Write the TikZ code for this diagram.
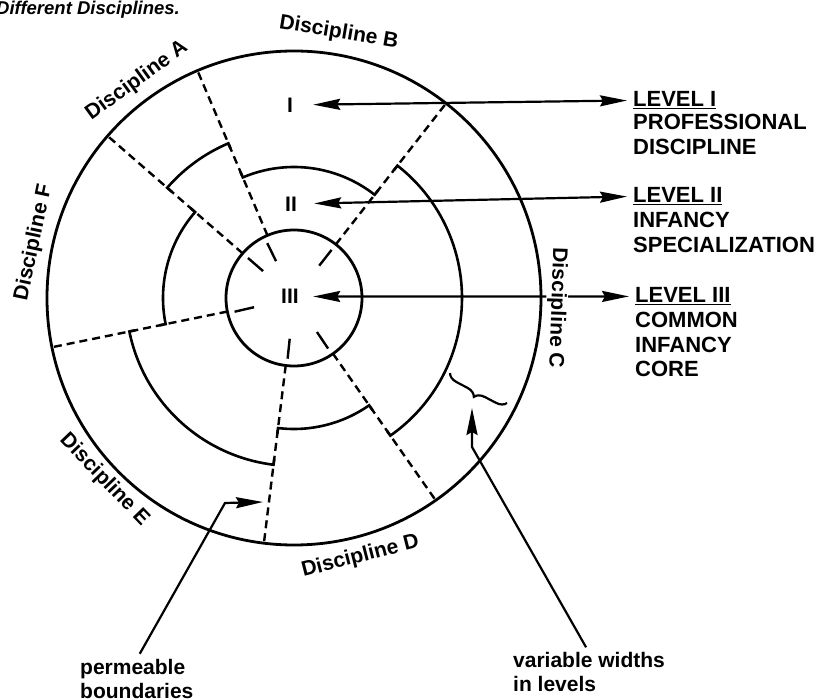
\documentclass[tikz,border=0pt]{standalone}
\usepackage{fontspec}
\setmainfont{Liberation Sans}
\usetikzlibrary{arrows.meta,decorations.pathreplacing}
\tikzset{
    rim/.style={line width=2.8pt},
    levelarc/.style={line width=2.6pt},
    boundary/.style={line width=2.4pt, dash pattern=on 8pt off 5pt},
    gaptick/.style={line width=2.4pt},
    lvarrow/.style={line width=2.2pt, {Stealth[length=27pt,width=11pt,inset=3pt]}-{Stealth[length=27pt,width=11pt,inset=3pt]}},
    pointer/.style={line width=2.2pt, -{Stealth[length=27pt,width=11pt,inset=3pt]}},
    disc/.style={font=\bfseries\fontsize{21}{24}\selectfont, inner sep=1pt},
    numeral/.style={font=\bfseries\fontsize{21}{24}\selectfont, minimum width=46pt, inner sep=0pt},
    levelhd/.style={font=\bfseries\fontsize{22}{25}\selectfont, inner sep=0pt, anchor=base west},
    levelbody/.style={font=\bfseries\fontsize{22}{24.5}\selectfont, inner sep=0pt, anchor=north west, align=left},
    note/.style={font=\bfseries\fontsize{21}{24}\selectfont, inner sep=0pt, anchor=north west, align=left},
}
\begin{document}
\begin{tikzpicture}[x=1pt,y=1pt]
    \useasboundingbox (-294,-402) rectangle (525,298);
    \node[font=\bfseries\itshape\fontsize{18.5}{22}\selectfont, anchor=base west, inner sep=0pt] (title) at (-298,283) {Different Disciplines.};

    % rings
    \draw[rim] (0,0) circle[radius=247];
    \draw[rim] (0,0) circle[radius=68];
    % level II, one arc per discipline: start/end/radius/stub
    \foreach \s/\e/\r/\q in {139/113/168/162, 113/52/131/137, 52/-55/168/162, -55/-97/131/137, -97/-168.5/168/162, -168.5/-221/131/137}
        \draw[levelarc] (\s:\q) -- (\s:\r) arc[start angle=\s, end angle=\e, radius=\r] -- (\e:\q);
    % boundaries
    \foreach \a/\t in {139/139, 113/116, 52/52, -55/-56, -97/-96, -168.5/-167} {
        \draw[boundary] (\a:68) -- (\a:247);
        \draw[gaptick] (\t:41) -- (\t:61);
    }

    % levels
    \node[numeral] (numI) at (-4,193) {I};
    \node[numeral] (numII) at (-3,94) {II};
    \node[numeral] (numIII) at (-4,1.5) {III};
    \node[levelhd] (hdI) at (339,191) {\underline{LEVEL I}};
    \node[levelbody] (bodyI) at (339,184) {PROFESSIONAL\\DISCIPLINE};
    \node[levelhd] (hdII) at (339,95) {\underline{LEVEL II}};
    \node[levelbody] (bodyII) at (339,86) {INFANCY\\SPECIALIZATION};
    \node[levelhd] (hdIII) at (341,-5) {\underline{LEVEL III}};
    \node[levelbody] (bodyIII) at (341,-14) {COMMON\\INFANCY\\CORE};
    \draw[lvarrow, shorten >=6pt] (numI) -- (hdI.west);
    \draw[lvarrow, shorten >=6pt] (numII) -- (hdII.west);
    \draw[lvarrow, shorten >=6pt] (numIII) -- (hdIII.west);

    % disciplines
    \node[disc, rotate=35.9] (discA) at (125.9:268) {Discipline A};
    \node[disc, rotate=-9.6] (discB) at (80.4:269) {Discipline B};
    \node[disc, rotate=-92, fill=white] (discC) at (-2.2:263) {Discipline C};
    \node[disc, rotate=14.4] (discD) at (-75.6:267) {Discipline D};
    \node[disc, rotate=-46.2] (discE) at (223.8:263) {Discipline E};
    \node[disc, rotate=78] (discF) at (168:266) {Discipline F};

    % notes
    \node[note] (perm) at (-214,-361) {permeable\\boundaries};
    \coordinate (permBend) at (-69,-205);
    \coordinate (permTip) at (-31,-204);
    \draw[pointer, shorten <=6pt] (perm.north) -- (permBend) -- (permTip);
    \node[note] (vari) at (219,-354.5) {variable widths\\in levels};
    \coordinate (variBend) at (178,-149);
    \coordinate (variTip) at (178,-110);
    \draw[pointer, shorten <=6pt] (vari.north) -- (variBend) -- (variTip);
    \coordinate (braceOut) at (213,-105);
    \coordinate (braceIn) at (156,-75);
    \draw[line width=2.2pt, decorate, decoration={brace, amplitude=10pt}] (braceOut) -- (braceIn);
\end{tikzpicture}
\end{document}
